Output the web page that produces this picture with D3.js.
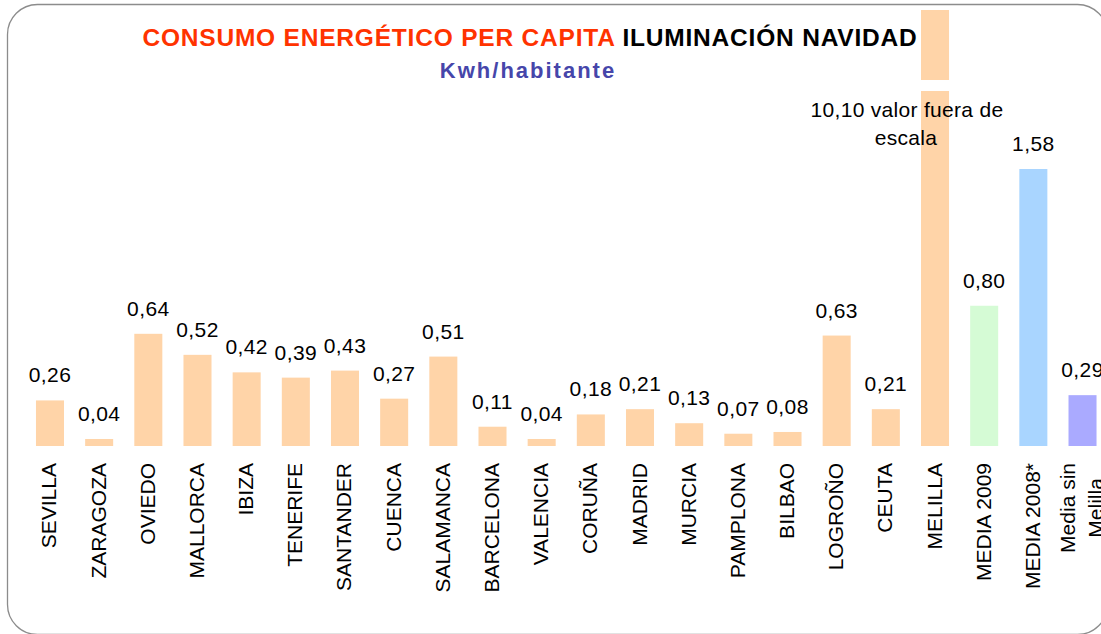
<!DOCTYPE html>
<html><head><meta charset="utf-8">
<script src="https://cdn.jsdelivr.net/npm/d3@7"></script>
<style>body{margin:0;background:#fff}svg{display:block;font-family:"Liberation Sans",Arial,sans-serif}</style>
</head><body>
<svg id="c" width="1101" height="634"></svg>
<script>
const categories = ["SEVILLA","ZARAGOZA","OVIEDO","MALLORCA","IBIZA","TENERIFE","SANTANDER","CUENCA","SALAMANCA","BARCELONA","VALENCIA","CORUÑA","MADRID","MURCIA","PAMPLONA","BILBAO","LOGROÑO","CEUTA","MELILLA","MEDIA 2009","MEDIA 2008*","Media sin Melilla"];
const values = [0.26,0.04,0.64,0.52,0.42,0.39,0.43,0.27,0.51,0.11,0.04,0.18,0.21,0.13,0.07,0.08,0.63,0.21,10.10,0.80,1.58,0.29];
const barColors = ["#FFD4A8","#FFD4A8","#FFD4A8","#FFD4A8","#FFD4A8","#FFD4A8","#FFD4A8","#FFD4A8","#FFD4A8","#FFD4A8","#FFD4A8","#FFD4A8","#FFD4A8","#FFD4A8","#FFD4A8","#FFD4A8","#FFD4A8","#FFD4A8","#FFD4A8","#D5FBD5","#A9D5FF","#AAAAFF"];
const valueLabels = ["0,26","0,04","0,64","0,52","0,42","0,39","0,43","0,27","0,51","0,11","0,04","0,18","0,21","0,13","0,07","0,08","0,63","0,21","","0,80","1,58","0,29"];
const outOfScaleNote = ["10,10 valor fuera de","escala"];
const yVisibleMax = 2.487;

const svg = d3.select("#c");
svg.append("rect").attr("x",7.5).attr("y",4.5).attr("width",1100).attr("height",630)
  .attr("rx",30).attr("fill","#fff").attr("stroke","#8c8c8c").attr("stroke-width",1.3);

const x = d3.scaleBand().domain(categories).range([25.4,1107.1]).paddingInner(0.43).paddingOuter(0.215);
const y = d3.scaleLinear().domain([0,yVisibleMax]).range([446,10]).clamp(true);

const data = categories.map((c,i)=>({c,v:values[i],col:barColors[i],lab:valueLabels[i]}));

svg.append("g").selectAll("rect").data(data).join("rect")
  .attr("x",d=>x(d.c)).attr("width",x.bandwidth())
  .attr("y",d=>y(d.v)).attr("height",d=>y(0)-y(d.v))
  .attr("fill",d=>d.col);

// break in the out-of-scale bar
const mel = data.find(d=>d.v>yVisibleMax);
svg.append("rect").attr("x",x(mel.c)-1).attr("width",x.bandwidth()+2)
  .attr("y",80).attr("height",11).attr("fill","#fff");

svg.append("g").selectAll("text").data(data.filter(d=>d.lab)).join("text")
  .attr("x",d=>x(d.c)+x.bandwidth()/2).attr("y",d=>y(d.v)-18)
  .attr("text-anchor","middle").attr("font-size",21).attr("letter-spacing",0.4)
  .attr("fill","#000").text(d=>d.lab);

const note = svg.append("text").attr("text-anchor","middle").attr("font-size",21).attr("letter-spacing",0.3).attr("fill","#000");
note.append("tspan").attr("x",x(mel.c)-14).attr("y",117).text(outOfScaleNote[0]);
note.append("tspan").attr("x",x(mel.c)-15).attr("y",145).text(outOfScaleNote[1]);

// category labels
const cg = svg.append("g");
data.forEach(d=>{
  const cx = x(d.c)+x.bandwidth()/2;
  const words = d.c==="Media sin Melilla" ? ["Media sin","Melilla"] : [d.c];
  const g = cg.append("g").attr("transform",`translate(${cx},463) rotate(-90)`);
  const t = g.append("text").attr("font-size",21).attr("fill","#000").attr("text-anchor","middle");
  if(words.length===1){
    t.attr("text-anchor","end").attr("x",0).attr("dy",6.5).text(words[0]);
  } else {
    const tmp = t.text(words[0]); const w0 = tmp.node().getComputedTextLength(); t.text(null);
    t.append("tspan").attr("x",-w0/2).attr("y",6.5-14).text(words[0]);
    t.append("tspan").attr("x",-w0/2).attr("y",6.5+14).text(words[1]);
  }
});

// title
const title = svg.append("text").attr("x",530).attr("y",46).attr("text-anchor","middle")
  .attr("font-size",24.5).attr("font-weight","bold").attr("letter-spacing",0.8);
title.append("tspan").attr("fill","#FF3300").text("CONSUMO ENERGÉTICO PER CAPITA ");
title.append("tspan").attr("fill","#000").text("ILUMINACIÓN NAVIDAD");
svg.append("text").attr("x",528).attr("y",78).attr("text-anchor","middle")
  .attr("font-size",22).attr("font-weight","bold").attr("letter-spacing",2).attr("fill","#4646AA").text("Kwh/habitante");
</script>
</body></html>
